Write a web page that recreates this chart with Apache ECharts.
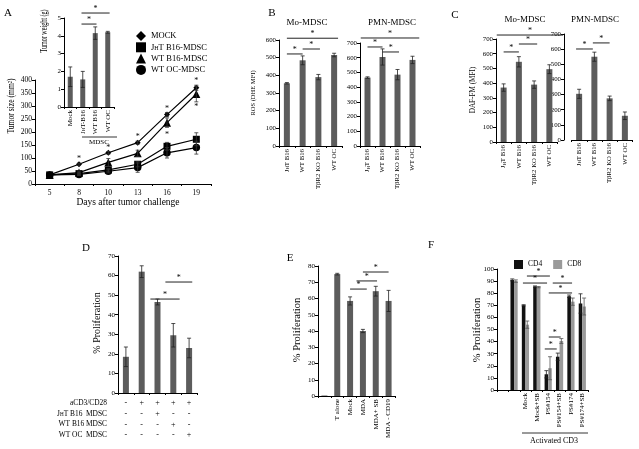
<!DOCTYPE html>
<html><head><meta charset="utf-8">
<script src="https://cdn.jsdelivr.net/npm/echarts@6/dist/echarts.min.js"></script>
<style>html,body{margin:0;padding:0;background:#fff}#c{width:639px;height:449px}</style>
</head><body><div id="c"></div>
<script>
// ---------- Panel A: tumour growth ----------
const daysA = ['5', '8', '10', '13', '16', '19'];
const namesA = ['MOCK', 'JHT B16-MDSC', 'WT B16-MDSC', 'WT OC-MDSC'];
const mockA = [35, 76, 120, 159, 267, 370];
const jhtA = [35, 40, 54, 76, 145, 172];
const wtB16A = [35, 44, 83, 118, 236, 346];
const wtOcA = [35, 37, 49, 63, 120, 140];
const mockErrA = [0, 4, 5, 6, 8, 10];
const jhtErrA = [0, 5, 5, 10, 15, 25];
const wtB16ErrA = [0, 6, 15, 12, 18, 30];
const wtOcErrA = [0, 4, 6, 18, 20, 25];
const starsA = [[1, 95], [2, 140], [3, 182], [4, 290], [4, 188], [5, 396], [5, 295]];
// inset: tumour weight
const weightCats = ['Mock', 'JHT-B16', 'WT B16', 'WT OC'];
const weightVals = [1.7, 1.55, 4.15, 4.2];
const weightErr = [0.55, 0.45, 0.35, 0.05];
const weightSig = [[1, 3, 5.28, -0.1, 0.15], [1, 2, 4.66, -0.1, 0.1]];
// ---------- Panel B: ROS ----------
const catsBC = ['JHT B16', 'WT B16', 'TβR2 KO B16', 'WT OC'];
const rosMo = [355, 485, 390, 515];
const rosMoErr = [4, 25, 15, 10];
const rosMoSig = [[0, 3, 610, 0, 0.25], [0, 1, 521, 0, 0], [1, 2, 549, 0, 0.1]];
const rosPmn = [465, 605, 485, 585];
const rosPmnErr = [5, 55, 35, 25];
const rosPmnSig = [[0, 3, 734, -0.45, 0.45], [0, 1, 673, 0, 0], [1, 2, 639, 0, 0.1]];
// ---------- Panel C: NO ----------
const dafMo = [370, 545, 390, 495];
const dafMoErr = [25, 35, 25, 30];
const dafMoSig = [[0, 3, 727, -0.45, 0.9], [0, 1, 612, 0, 0], [1, 2, 666, 0, 0.2]];
const dafPmn = [305, 550, 275, 160];
const dafPmnErr = [30, 30, 15, 25];
const dafPmnSig = [[0, 1, 601, -0.2, -0.1], [1, 2, 641, -0.1, 0]];
// ---------- Panel D ----------
const catsD = ['1', '2', '3', '4', '5'];
const procD = [18.5, 62, 46.5, 29.5, 23];
const procDErr = [5, 3, 1.5, 6, 5];
const procDSig = [[3, 4, 56.7, -0.5, 0.2], [2, 3, 48, -0.45, 0.4]];
const tableLabelsD = ['aCD3/CD28', 'JHT B16  MDSC', 'WT B16 MDSC', 'WT OC  MDSC'];
const tableSignsD = [[0, 1, 1, 1, 1], [0, 0, 1, 0, 0], [0, 0, 0, 1, 0], [0, 0, 0, 0, 1]];
// ---------- Panel E ----------
const catsE = ['', 'T alone', 'Mock', 'MDA', 'MDA+ SB', 'MDA - CD19'];
const procE = [0.3, 75, 58.5, 40, 64.5, 58.5];
const procEErr = [0, 0.5, 2.5, 1, 3, 6.5];
const procESig = [[2, 3, 65.8, 0, 0.3], [2, 4, 70.8, 0.5, 0.1], [3, 5, 76.3, 0, 0]];
// ---------- Panel F ----------
const catsF = ['', ' ', 'Mock', 'Mock+SB', 'PS#154', 'PS#154+SB', 'PS#174', 'PS#174+SB'];
const cd4F = [null, 91, 70, 85.5, 13, 27.5, 77.5, 71.5];
const cd4FErr = [0, 0.8, 0.5, 0.5, 3, 3, 1, 8];
const cd8F = [null, 90, 54, 85, 18, 40.5, 73, 69];
const cd8FErr = [0, 1, 3, 0.5, 9.5, 2, 3, 7];
const procFSig = [[2, 4, 94.2, 0.13, 0.15], [2, 4, 88.4, -0.22, -0.1], [4, 6, 88.4, 0.4, 0.1],
                  [4, 6, 80.2, 0.05, 0.1], [4, 5, 43.8, 0.05, 0.1], [4, 5, 33.9, -0.3, -0.25]];

const FONT = '"Liberation Serif"';
const f = s => s + 'px ' + FONT;
const BAR = '#5c5c5c';

const grids = [], xAxes = [], yAxes = [], series = [];

function subFmt(v) {
  if (v.indexOf('JHT') === 0) return '{n|J}{s|H}{n|' + v.slice(2) + '}';
  return '{n|' + v + '}';
}
function addGrid(g, cats, yMax, yInt, o) {
  grids.push(g);
  const i = grids.length - 1;
  xAxes.push({
    gridIndex: i, type: 'category', data: cats,
    axisLine: { lineStyle: { color: '#000', width: 1 } },
    axisTick: { show: true, length: 2, lineStyle: { color: '#000' } },
    axisLabel: {
      show: o.xLabels !== false, rotate: o.rot || 0, interval: 0, margin: o.xMargin || 3,
      color: '#000', fontFamily: FONT, fontSize: o.xFont || 7,
      formatter: o.rot ? subFmt : undefined,
      rich: { n: { fontSize: o.xFont || 7, fontFamily: FONT, color: '#000' },
              s: { fontSize: (o.xFont || 7) * 0.7, fontFamily: FONT, color: '#000', verticalAlign: 'bottom' } }
    }
  });
  yAxes.push({
    gridIndex: i, type: 'value', min: 0, max: yMax, interval: yInt, offset: o.yOffset || 0,
    splitLine: { show: false },
    axisLine: { show: true, lineStyle: { color: '#000', width: 1 } },
    axisTick: { show: true, length: 3, lineStyle: { color: '#000' } },
    axisLabel: { color: '#000', fontFamily: FONT, fontSize: o.yFont || 7, margin: 3 }
  });
  return i;
}
function errRender(offset, color) {
  return function (params, api) {
    const e = api.value(2);
    if (!e) return null;
    const x = api.value(0), v = api.value(1);
    const p0 = api.coord([x, v - e]), p1 = api.coord([x, v + e]);
    const cx = p0[0] + offset, w = 2;
    const st = { stroke: color || '#222', lineWidth: 0.8 };
    return { type: 'group', children: [
      { type: 'line', shape: { x1: cx, y1: p0[1], x2: cx, y2: p1[1] }, style: st },
      { type: 'line', shape: { x1: cx - w, y1: p1[1], x2: cx + w, y2: p1[1] }, style: st },
      { type: 'line', shape: { x1: cx - w, y1: p0[1], x2: cx + w, y2: p0[1] }, style: st }
    ] };
  };
}
function sigRender(params, api) {
  const i0 = api.value(0), i1 = api.value(1), y = api.value(2), o0 = api.value(3), o1 = api.value(4);
  const band = api.size([1, 0])[0];
  const a = api.coord([i0, y]), b = api.coord([i1, y]);
  const xa = a[0] + o0 * band, xb = b[0] + o1 * band;
  return { type: 'group', children: [
    { type: 'line', shape: { x1: xa, y1: a[1], x2: xb, y2: a[1] }, style: { stroke: '#222', lineWidth: 1 } },
    { type: 'text', x: (xa + xb) / 2, y: a[1] - 0.5,
      style: { text: '*', font: f(8), fill: '#000', align: 'center', textAlign: 'center', verticalAlign: 'bottom', textVerticalAlign: 'bottom' } }
  ] };
}
function addBars(i, vals, errs, sig, bw) {
  series.push({ type: 'bar', xAxisIndex: i, yAxisIndex: i, data: vals, barWidth: bw, itemStyle: { color: BAR }, silent: true });
  series.push({ type: 'custom', xAxisIndex: i, yAxisIndex: i, encode: { x: 0, y: 1 }, z: 3, silent: true,
    data: vals.map((v, k) => [k, v, errs[k]]), renderItem: errRender(0) });
  if (sig) series.push({ type: 'custom', xAxisIndex: i, yAxisIndex: i, encode: { x: 0, y: 2 }, z: 4, silent: true,
    data: sig, renderItem: sigRender });
}

// Panel A main
const gA = addGrid({ left: 35, top: 80, width: 176, height: 104 }, daysA, 400, 50, { xFont: 7.5, yFont: 7.5, xMargin: 5 });
const lineDefs = [
  [namesA[0], mockA, mockErrA, 'diamond', 6],
  [namesA[1], jhtA, jhtErrA, 'rect', 7],
  [namesA[2], wtB16A, wtB16ErrA, 'triangle', 8],
  [namesA[3], wtOcA, wtOcErrA, 'circle', 7.5]
];
lineDefs.forEach(d => {
  series.push({ type: 'line', name: d[0], xAxisIndex: gA, yAxisIndex: gA, data: d[1], symbol: d[3], symbolSize: d[4],
    lineStyle: { color: '#000', width: 1.2 }, itemStyle: { color: '#000' }, silent: true, z: 2 });
  series.push({ type: 'custom', xAxisIndex: gA, yAxisIndex: gA, encode: { x: 0, y: 1 }, silent: true, z: 3,
    data: d[1].map((v, k) => [k, v, d[2][k]]), renderItem: errRender(0, '#333') });
});
series.push({ type: 'custom', xAxisIndex: gA, yAxisIndex: gA, encode: { x: 0, y: 1 }, silent: true, z: 4, data: starsA,
  renderItem: (p, api) => { const c = api.coord([api.value(0), api.value(1)]);
    return { type: 'text', x: c[0], y: c[1], style: { text: '*', font: f(8), fill: '#000', align: 'center', textAlign: 'center', verticalAlign: 'middle', textVerticalAlign: 'middle' } }; } });

// inset
const gI = addGrid({ left: 64, top: 18, width: 50, height: 89 }, weightCats, 5, 1, { rot: 90, xFont: 7, yFont: 7 });
addBars(gI, weightVals, weightErr, weightSig, 5);
// B
const gB1 = addGrid({ left: 279, top: 40, width: 63, height: 106 }, catsBC, 600, 100, { rot: 90, xFont: 6.8, yFont: 6.8 });
addBars(gB1, rosMo, rosMoErr, rosMoSig, 6);
const gB2 = addGrid({ left: 360, top: 43, width: 60, height: 103 }, catsBC, 700, 100, { rot: 90, xFont: 6.8, yFont: 6.8 });
addBars(gB2, rosPmn, rosPmnErr, rosPmnSig, 6);
// C
const gC1 = addGrid({ left: 496, top: 39, width: 61, height: 103 }, catsBC, 700, 100, { rot: 90, xFont: 6.8, yFont: 6.8 });
addBars(gC1, dafMo, dafMoErr, dafMoSig, 6);
const gC2 = addGrid({ left: 571.5, top: 34, width: 61, height: 106 }, catsBC, 700, 100, { rot: 90, xFont: 6.8, yFont: 6.8, yOffset: 7.5 });
addBars(gC2, dafPmn, dafPmnErr, dafPmnSig, 6);
// D
const gD = addGrid({ left: 118, top: 256, width: 79, height: 137 }, catsD, 70, 10, { xLabels: false, yFont: 7 });
addBars(gD, procD, procDErr, procDSig, 6);
const tableData = [];
tableSignsD.forEach((row, r) => row.forEach((s, k) => tableData.push([k, r, s])));
series.push({ type: 'custom', xAxisIndex: gD, yAxisIndex: gD, encode: { x: 0, y: 1 }, silent: true, data: tableData,
  renderItem: (p, api) => { const c = api.coord([api.value(0), 0]);
    return { type: 'text', x: c[0], y: c[1] + 10.3 + api.value(1) * 10.6,
      style: { text: api.value(2) ? '+' : '-', font: f(8), fill: '#000', align: 'center', textAlign: 'center', verticalAlign: 'middle', textVerticalAlign: 'middle' } }; } });
// E
const gE = addGrid({ left: 318, top: 266, width: 77, height: 130 }, catsE, 80, 10, { rot: 90, xFont: 7, yFont: 7 });
addBars(gE, procE, procEErr, procESig, 6);
// F
const gF = addGrid({ left: 497, top: 269, width: 91, height: 121 }, catsF, 100, 10, { rot: 90, xFont: 7, yFont: 7 });
series.push({ type: 'bar', name: 'CD4', xAxisIndex: gF, yAxisIndex: gF, data: cd4F, barWidth: 3.6, barGap: '0%', itemStyle: { color: '#111' }, silent: true });
series.push({ type: 'bar', name: 'CD8', xAxisIndex: gF, yAxisIndex: gF, data: cd8F, barWidth: 3.6, barGap: '0%', itemStyle: { color: '#9a9a9a' }, silent: true });
series.push({ type: 'custom', xAxisIndex: gF, yAxisIndex: gF, encode: { x: 0, y: 1 }, z: 3, silent: true,
  data: cd4F.map((v, k) => [k, v, cd4FErr[k]]), renderItem: errRender(-1.8, '#222') });
series.push({ type: 'custom', xAxisIndex: gF, yAxisIndex: gF, encode: { x: 0, y: 1 }, z: 3, silent: true,
  data: cd8F.map((v, k) => [k, v, cd8FErr[k]]), renderItem: errRender(1.8, '#555') });
series.push({ type: 'custom', xAxisIndex: gF, yAxisIndex: gF, encode: { x: 0, y: 2 }, z: 4, silent: true,
  data: procFSig, renderItem: sigRender });

// texts
function T(text, x, y, size, o) {
  o = o || {};
  return { type: 'text', x: x, y: y, rotation: o.rot || 0, scaleX: o.sx || 1, silent: true,
    style: { text: text, font: f(size), fill: '#000', align: o.align || 'center', textAlign: o.align || 'center',
      verticalAlign: 'middle', textVerticalAlign: 'middle', rich: o.rich } };
}
const R = Math.PI / 2;
const subRich = s => ({ n: { fontSize: s, fontFamily: FONT, color: '#000' }, s: { fontSize: s * 0.7, fontFamily: FONT, color: '#000', verticalAlign: 'bottom' } });
const graphics = [
  T('A', 8, 13, 11), T('B', 272, 13, 11), T('C', 455, 15, 11), T('D', 86, 248, 11), T('E', 290, 258, 11), T('F', 431, 245, 11),
  T('Days after tumor challenge', 128, 202, 9.5),
  T('Tumor size (mm²)', 11, 106, 9.5, { rot: R, sx: 0.8 }),
  T('Tumor weight (g)', 44, 31, 9.5, { rot: R, sx: 0.64 }),
  { type: 'line', silent: true, shape: { x1: 82, y1: 137, x2: 117, y2: 137 }, style: { stroke: '#000', lineWidth: 0.8 } },
  T('MDSC', 99, 142, 7),
  T('Mo-MDSC', 307, 23, 9), T('PMN-MDSC', 392, 23, 9),
  T('ROS (DHE MFI)', 253, 93, 6.5, { rot: R }),
  T('Mo-MDSC', 525, 20, 9), T('PMN-MDSC', 595, 20, 9),
  T('DAF-FM (MFI)', 473, 90, 7.2, { rot: R }),
  T('% Proliferation', 97, 323, 10, { rot: R }),
  T('% Proliferation', 297, 330, 10.5, { rot: R }),
  T('% Proliferation', 477, 330, 10.5, { rot: R }),
  { type: 'line', silent: true, shape: { x1: 522, y1: 433, x2: 588, y2: 433 }, style: { stroke: '#000', lineWidth: 0.8 } },
  T('Activated CD3', 554, 441, 8)
];
tableLabelsD.forEach((l, r) => graphics.push(T(subFmt(l), 107, 403.3 + r * 10.6, 7.4, { align: 'right', rich: subRich(7.4) })));

const chart = echarts.init(document.getElementById('c'), null, { renderer: 'canvas' });
chart.setOption({
  animation: false,
  backgroundColor: '#fff',
  textStyle: { fontFamily: FONT, color: '#000' },
  grid: grids, xAxis: xAxes, yAxis: yAxes, series: series,
  legend: [
    { data: namesA.map((n, k) => ({ name: n, icon: ['diamond', 'rect', 'triangle', 'circle'][k] })),
      orient: 'vertical', left: 131, top: 26, itemWidth: 10, itemHeight: 10, itemGap: 1.3, selectedMode: false,
      formatter: subFmt,
      textStyle: { fontSize: 8.5, fontFamily: FONT, color: '#000', rich: subRich(8.5) },
      itemStyle: { color: '#000' } },
    { data: ['CD4', 'CD8'], left: 509, top: 255, itemWidth: 9, itemHeight: 9, itemGap: 11, selectedMode: false, icon: 'rect',
      textStyle: { fontSize: 7.5, fontFamily: FONT, color: '#000' } }
  ],
  graphic: graphics
});
</script></body></html>
